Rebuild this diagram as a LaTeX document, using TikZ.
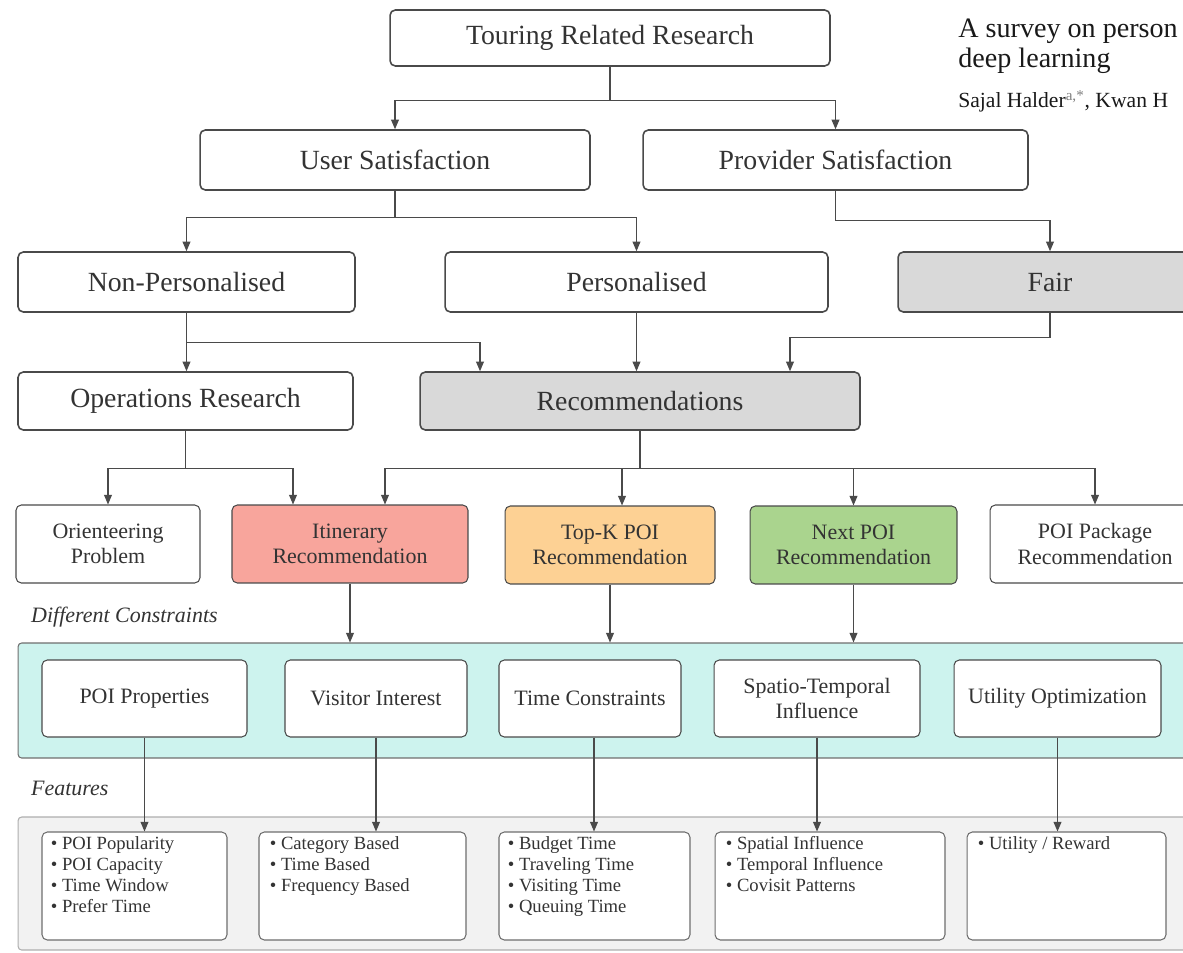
\documentclass[tikz,border=0pt]{standalone}
\usepackage{fontspec}
\setmainfont{Liberation Serif}
\usetikzlibrary{arrows.meta,calc}

\definecolor{boxline}{HTML}{4A4A4A}
\definecolor{recgrey}{HTML}{D9D9D9}
\definecolor{itinred}{HTML}{F8A59C}
\definecolor{topkorange}{HTML}{FDD194}
\definecolor{nextgreen}{HTML}{AAD48E}
\definecolor{consband}{HTML}{CDF3EE}
\definecolor{featband}{HTML}{F2F2F2}

\tikzset{
  big/.style={draw=boxline, line width=0.9pt, rounded corners=3pt, minimum height=1.2cm,
    font=\fontsize{15.8}{19}\selectfont},
  mid/.style={draw=boxline, line width=0.6pt, rounded corners=3pt, minimum height=1.56cm,
    align=center, font=\fontsize{12.5}{14.5}\selectfont},
  band/.style={draw=boxline!80, line width=0.6pt, rounded corners=2pt},
  featbox/.style={draw=boxline!80, fill=white, line width=0.6pt, rounded corners=3pt,
    minimum height=2.16cm},
  ftext/.style={anchor=north west, inner sep=0pt, align=left,
    font=\fontsize{10.6}{11.9}\selectfont},
  tag/.style={anchor=west, font=\itshape\fontsize{12.5}{15}\selectfont},
  head/.style={anchor=base west, inner sep=0pt, text=black!90},
  arr/.style={draw=boxline, line width=0.6pt, -{Triangle[length=5.5pt,width=4.5pt]}},
}

\begin{document}
\begin{tikzpicture}[x=0.02cm, y=-0.02cm, text=black!80]
\useasboundingbox (0,0) rectangle (1183,953);

% paper header
\node[head, font=\fontsize{16}{20}\selectfont] (title1) at (958,38) {A survey on person};
\node[head, font=\fontsize{16}{20}\selectfont] (title2) at (958,68) {deep learning};
\node[head, font=\fontsize{12.3}{15}\selectfont] (authors) at (958,108)
  {Sajal Halder\textsuperscript{\color{gray}a,*}, Kwan H};

% bands
\node[band, fill=consband, minimum width=23.64cm, minimum height=2.3cm] (cons) at (609,700.5) {};
\node[band, fill=featband, draw=boxline!45, minimum width=23.64cm, minimum height=2.66cm] (feat) at (609,883.5) {};
\node[tag] (constag) at (25,617) {Different Constraints};
\node[tag] (feattag) at (25,788) {Features};

% upper levels
\node[big, minimum width=8.8cm, minimum height=1.12cm] (touring) at (610,38) {Touring Related Research};
\node[big, minimum width=7.8cm] (user) at (395,160) {User Satisfaction};
\node[big, minimum width=7.7cm] (provider) at (835.5,160) {Provider Satisfaction};
\node[big, minimum width=6.74cm] (nonpers) at (186.5,282) {Non-Personalised};
\node[big, minimum width=7.66cm] (pers) at (636.5,282) {Personalised};
\node[big, minimum width=6.08cm, fill=recgrey] (fair) at (1050,282) {Fair};
\node[big, minimum width=6.7cm, minimum height=1.16cm] (or) at (185.5,401) {Operations Research};
\node[big, minimum width=8.8cm, minimum height=1.16cm, fill=recgrey] (rec) at (640,401) {Recommendations};

% recommendation tasks
\node[mid, minimum width=3.68cm] (orient) at (108,544) {Orienteering\\Problem};
\node[mid, minimum width=4.72cm, fill=itinred] (itin) at (350,544) {Itinerary\\Recommendation};
\node[mid, minimum width=4.2cm, fill=topkorange] (topk) at (610,545) {Top-K POI\\Recommendation};
\node[mid, minimum width=4.14cm, fill=nextgreen] (next) at (853.5,545) {Next POI\\Recommendation};
\node[mid, minimum width=4.2cm] (pkg) at (1095,544) {POI Package\\Recommendation};

% constraints
\node[mid, fill=white, minimum height=1.54cm, minimum width=4.1cm] (props) at (144.5,698.5) {POI Properties};
\node[mid, fill=white, minimum height=1.54cm, minimum width=3.64cm] (interest) at (376,698.5) {Visitor Interest};
\node[mid, fill=white, minimum height=1.54cm, minimum width=3.64cm] (timec) at (590,698.5) {Time Constraints};
\node[mid, fill=white, minimum height=1.54cm, minimum width=4.12cm] (spatio) at (817,698.5) {Spatio-Temporal\\Influence};
\node[mid, fill=white, minimum height=1.54cm, minimum width=4.14cm] (utility) at (1057.5,698.5) {Utility Optimization};

% features
\node[featbox, minimum width=3.7cm] (fprops) at (134.5,886) {};
\node[featbox, minimum width=4.14cm] (finterest) at (362.5,886) {};
\node[featbox, minimum width=3.82cm] (ftime) at (594.5,886) {};
\node[featbox, minimum width=4.6cm] (fspatio) at (830,886) {};
\node[featbox, minimum width=3.98cm] (futility) at (1066.5,886) {};
\node[ftext] (tprops) at ($(fprops.north west)+(9,5)$)
  {\textbullet\ POI Popularity\\ \textbullet\ POI Capacity\\ \textbullet\ Time Window\\ \textbullet\ Prefer Time};
\node[ftext] (tinterest) at ($(finterest.north west)+(11,5)$)
  {\textbullet\ Category Based\\ \textbullet\ Time Based\\ \textbullet\ Frequency Based};
\node[ftext] (ttime) at ($(ftime.north west)+(9,5)$)
  {\textbullet\ Budget Time\\ \textbullet\ Traveling Time\\ \textbullet\ Visiting Time\\ \textbullet\ Queuing Time};
\node[ftext] (tspatio) at ($(fspatio.north west)+(11,5)$)
  {\textbullet\ Spatial Influence\\ \textbullet\ Temporal Influence\\ \textbullet\ Covisit Patterns};
\node[ftext] (tutility) at ($(futility.north west)+(11,5)$)
  {\textbullet\ Utility / Reward};

% connectors
\coordinate (tcout) at ($(timec.south)+(4,0)$);
\draw[arr] (touring.south) -- ++(0,34) -| (user.north);
\draw[arr] (touring.south) -- ++(0,34) -| (provider.north);
\draw[arr] (user.south) -- ++(0,27) -| (nonpers.north);
\draw[arr] (user.south) -- ++(0,27) -| (pers.north);
\draw[arr] (provider.south) -- ++(0,30) -| (fair.north);
\draw[arr] (nonpers.south) -- (nonpers.south |- or.north);
\draw[arr] (nonpers.south) -- ++(0,30) -| ($(rec.north)+(-160,0)$);
\draw[arr] (pers.south) -- (pers.south |- rec.north);
\draw[arr] (fair.south) -- ++(0,25) -| ($(rec.north)+(150,0)$);
\draw[arr] (or.south) -- ++(0,38) -| (orient.north);
\draw[arr] (or.south) -- ++(0,38) -| ($(itin.north)+(-57,0)$);
\draw[arr] (rec.south) -- ++(0,38) -| ($(itin.north)+(35,0)$);
\draw[arr] (rec.south) -- ++(0,38) -| ($(topk.north)+(12,0)$);
\draw[arr] (rec.south) -- ++(0,38) -| (next.north);
\draw[arr] (rec.south) -- ++(0,38) -| (pkg.north);
\draw[arr] (itin.south) -- (itin.south |- cons.north);
\draw[arr] (topk.south) -- (topk.south |- cons.north);
\draw[arr] (next.south) -- (next.south |- cons.north);
\draw[arr] (props.south) -- (props.south |- fprops.north);
\draw[arr] (interest.south) -- (interest.south |- finterest.north);
\draw[arr] (tcout) -- (tcout |- ftime.north);
\draw[arr] (spatio.south) -- (spatio.south |- fspatio.north);
\draw[arr] (utility.south) -- (utility.south |- futility.north);
\end{tikzpicture}
\end{document}
